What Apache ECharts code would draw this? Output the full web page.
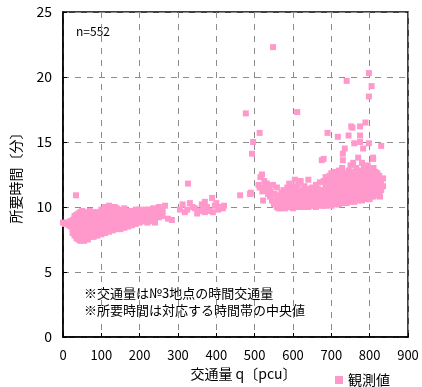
<!DOCTYPE html>
<html>
<head>
<meta charset="utf-8">
<script src="https://cdn.jsdelivr.net/npm/echarts@6/dist/echarts.min.js"></script>
<style>
html,body{margin:0;padding:0;background:#fff;}
#c{width:422px;height:387px;}
</style>
</head>
<body>
<div id="c"></div>
<script>
// traffic volume q -> list of travel times (minutes)
const freeFlow = [
 [0,[8.8]],[5,[8.7]],[10,[8.8]],[15,[8.6]],[18,[8.9]],[20,[8.5]],[22,[8.8]],
 [25,[8.3,8.7,9.0,8.0]],[30,[7.8,8.2,8.6,9.1,9.3]],[34,[10.9]],
 [35,[7.6,8.0,8.4,8.9,9.4]],[40,[7.5,7.9,8.3,8.7,9.2,9.5]],
 [45,[7.4,7.7,8.1,8.5,8.8,9.1,9.6]],[50,[7.5,7.9,8.2,8.6,9.0,9.4,9.7]],
 [55,[7.4,7.8,8.3,8.7,9.1,9.5]],[60,[7.6,8.0,8.4,8.8,9.2,9.6]],
 [65,[7.5,7.9,8.2,8.6,9.0,9.4]],[70,[7.7,8.1,8.5,8.9,9.3,9.7]],
 [75,[7.8,8.2,8.6,9.0,9.5]],[80,[7.7,8.1,8.4,8.8,9.2,9.6]],
 [85,[7.9,8.3,8.7,9.1,9.4]],[90,[7.8,8.2,8.6,9.0,9.3,9.6]],
 [95,[8.0,8.4,8.8,9.2,9.5]],[100,[7.9,8.3,8.7,9.1,9.5,9.8]],
 [105,[8.1,8.5,8.9,9.3,9.7]],[110,[8.0,8.4,8.8,9.2,9.6,10.0]],
 [115,[8.2,8.6,9.0,9.4,9.9]],[120,[8.1,8.5,8.9,9.3,9.7,10.1]],
 [125,[8.3,8.7,9.1,9.5,9.9]],[130,[8.2,8.6,9.0,9.4,9.8]],
 [135,[8.4,8.8,9.2,9.6,10.0]],[140,[8.3,8.7,9.1,9.5,9.9]],
 [145,[8.5,8.9,9.3,9.7]],[150,[8.3,8.7,9.0,9.4,9.8]],
 [155,[8.5,8.9,9.3,9.6]],[160,[8.4,8.8,9.2,9.5,9.9]],
 [165,[8.6,9.0,9.4,9.7]],[170,[8.5,8.9,9.3,9.6]],[175,[8.7,9.1,9.5]],
 [180,[8.6,9.0,9.4,9.7]],[185,[8.8,9.2,9.5]],[190,[8.7,9.1,9.4,9.8]],
 [195,[8.9,9.3,9.6]],[200,[8.8,9.2,9.5,9.8]],[210,[8.9,9.3,9.6]],
 [215,[9.0,9.4,9.8]],[220,[8.8,9.2,9.5]],[225,[9.1,9.5,9.8]],
 [230,[8.9,9.3,9.6]],[235,[9.2,9.5,9.9]],[240,[8.8,9.3,9.6]],
 [245,[9.4,9.8]],[250,[9.2,9.6,10.0]],[255,[9.5,9.8]],[260,[9.3,9.7]],
 [266,[10.1]],[274,[9.1]],[284,[9.0]]
];
const transition = [
 [305,[9.8]],[312,[10.2]],[318,[9.6]],[324,[9.8]],[326,[11.8]],[331,[10.3]],
 [338,[10.0]],[344,[9.9]],[350,[9.5]],[356,[9.7]],[362,[10.2]],[366,[9.8]],
 [370,[10.4,9.6]],[376,[10.0]],[382,[9.7]],[389,[10.7]],[391,[9.6]],
 [396,[10.1]],[400,[10.3]],[405,[9.8]],[412,[10.0]],[417,[9.9]],[420,[10.1]],
 [462,[10.9]],[477,[17.2]],[488,[11.0]],[490,[11.1]],[493,[14.1]],
 [496,[15.0]],[513,[15.7]]
];
const congestedLow = [
 [510,[11.7]],[513,[11.5]],[515,[12.3]],[519,[12.5]],[520,[11.2]],
 [522,[11.5,10.5]],[525,[12.0]],[528,[11.8]],[530,[11.3]],[532,[11.8]],
 [535,[11.0]],[538,[11.6]],[540,[10.8]],[542,[11.2]],[545,[10.5]],
 [548,[11.7,10.5,22.3]],[550,[10.2]],[552,[11.0]],[555,[10.4]],
 [558,[11.5,10.0]],[560,[10.7]],[562,[9.9]],[566,[10.9,10.3]],
 [570,[9.9,10.2,10.5,10.8,11.1]],[575,[10.0,10.4,10.7,11.3]],
 [580,[9.9,10.2,10.6,10.9,11.2]],[585,[10.1,10.4,10.8,11.5]],
 [590,[10.0,10.3,10.7,11.0,11.8]],[595,[10.2,10.5,10.9,11.3]],
 [600,[9.9,10.3,10.6,11.0,11.6]],[605,[10.1,10.4,10.8,11.2,12.1]],
 [610,[10.0,10.3,10.7,11.0,11.4]],[611,[17.3]],
 [615,[10.2,10.5,10.9,11.8]],[620,[10.0,10.4,10.7,11.1,12.0]],
 [625,[10.1,10.5,10.8,11.3]],[630,[10.0,10.3,10.6,11.0,11.6]],
 [635,[10.2,10.5,10.9,11.3]],[640,[10.0,10.4,10.7,11.1,12.1]],
 [645,[10.1,10.5,10.8,11.4]],[650,[10.1,10.4,10.7,11.0,11.5]],
 [655,[10.2,10.6,10.9,11.3]],[660,[10.0,10.4,10.8,11.1,11.7]],
 [665,[10.2,10.5,10.9,11.4]],[670,[10.1,10.4,10.7,11.0,11.9]],
 [675,[10.2,10.6,11.2,13.6]],[680,[10.1,10.5,10.8,11.3,12.0,13.7]]
];
const congestedHigh = [
 [685,[10.1,10.5,10.9,11.3,11.7,12.3]],[690,[10.2,10.6,11.0,11.4,12.0,15.7]],
 [695,[10.3,10.7,11.1,11.5,12.4]],[700,[10.1,10.5,10.9,11.3,11.8,12.6]],
 [705,[10.3,10.7,11.1,11.6,12.2]],[710,[10.2,10.6,11.0,11.4,11.9,12.7]],
 [715,[10.4,10.8,11.2,11.7,12.3]],[717,[15.4]],
 [720,[10.2,10.6,11.0,11.5,12.0,12.8]],[725,[10.4,10.8,11.3,11.8,12.5]],
 [728,[13.0]],[730,[10.3,10.7,11.1,11.6,12.2,13.6,14.1]],
 [735,[10.5,10.9,11.4,11.9,12.6,14.5]],[740,[10.3,10.7,11.2,11.7,12.3,19.7]],
 [745,[10.5,10.9,11.4,12.0,12.8,15.5]],[750,[10.4,10.8,11.3,11.8,12.5,13.2]],
 [752,[16.2]],[755,[10.6,11.0,11.5,12.1,12.7,16.1]],[757,[13.4]],
 [760,[10.4,10.9,11.4,11.9,12.5,14.9]],[765,[10.6,11.1,11.6,12.2,13.0]],
 [770,[10.5,11.0,11.5,12.0,12.7,13.8]],[775,[10.7,11.2,11.7,12.3,15.0,16.2,15.5]],
 [780,[10.5,11.0,11.6,12.1,12.8,13.4]],[783,[14.5]],
 [785,[10.7,11.2,11.8,12.4,13.1]],[789,[16.5]],
 [790,[10.6,11.1,11.6,12.2,12.9]],[795,[10.8,11.3,11.9,12.5,13.2]],
 [798,[20.3,18.5,14.9]],[800,[10.6,11.1,11.7,12.3,12.9]],
 [805,[10.9,11.4,12.0,12.6,19.3]],[809,[13.7,13.8]],
 [810,[10.8,11.3,11.9,12.5,13.0]],[815,[11.0,11.5,12.1,12.7]],
 [820,[10.9,11.4,12.0,12.6]],[825,[11.2,11.8,12.4]],[827,[10.8]],
 [830,[11.3,11.9,14.7]],[835,[12.2,11.6]]
];
const xTicks = [0,100,200,300,400,500,600,700,800,900];
const yTicks = [0,5,10,15,20,25];
const sampleCount = 'n=552';
const notes = ['※交通量は№3地点の時間交通量','※所要時間は対応する時間帯の中央値'];

const points = [];
[freeFlow, transition, congestedLow, congestedHigh].forEach(g =>
  g.forEach(([q, ts]) => ts.forEach(t => points.push([q, t]))));

const FONT = '"Noto Sans CJK JP", sans-serif';
const chart = echarts.init(document.getElementById('c'), null, {renderer: 'canvas'});
chart.setOption({
  animation: false,
  backgroundColor: '#fff',
  textStyle: {fontFamily: FONT},
  grid: {left: 63, right: 14, top: 12, bottom: 50, show: true, borderColor: '#000', borderWidth: 1.5, backgroundColor: 'transparent'},
  xAxis: {
    type: 'value', min: xTicks[0], max: xTicks[xTicks.length - 1], interval: 100,
    name: '交通量 q〔pcu〕', nameLocation: 'middle', nameGap: 30,
    nameTextStyle: {color: '#000', fontSize: 14, fontFamily: FONT, padding: [0, 0, 0, 16]},
    axisLine: {show: true, lineStyle: {color: '#000', width: 1.5}},
    axisTick: {show: true, inside: true, length: 4, lineStyle: {color: '#000'}},
    axisLabel: {color: '#000', fontSize: 13, margin: 12, fontFamily: FONT},
    splitLine: {show: true, lineStyle: {color: '#8c8c8c', type: [6, 6], width: 1}}
  },
  yAxis: {
    type: 'value', min: yTicks[0], max: yTicks[yTicks.length - 1], interval: 5,
    name: '所要時間〔分〕', nameLocation: 'middle', nameGap: 40, nameRotate: 90,
    nameTextStyle: {color: '#000', fontSize: 14, fontFamily: FONT},
    axisLine: {show: true, lineStyle: {color: '#000', width: 1.5}},
    axisTick: {show: true, inside: true, length: 4, lineStyle: {color: '#000'}},
    axisLabel: {color: '#000', fontSize: 14, margin: 11, fontFamily: FONT},
    splitLine: {show: true, lineStyle: {color: '#8c8c8c', type: [6, 6], width: 1}}
  },
  legend: {
    show: true, left: 330, top: 368, itemWidth: 8, itemHeight: 8, itemGap: 4,
    textStyle: {color: '#000', fontSize: 14, fontFamily: FONT},
    data: [{name: '観測値', icon: 'rect'}]
  },
  series: [{
    name: '観測値', type: 'scatter', symbol: 'rect', symbolSize: 6,
    itemStyle: {color: '#ff99cc', opacity: 1},
    data: points
  }],
  graphic: [
    {type: 'text', left: 76, top: 25, style: {text: sampleCount, fill: '#000', font: '12px ' + FONT}},
    {type: 'text', left: 84, top: 287, style: {text: notes[0], fill: '#000', font: '13px ' + FONT}},
    {type: 'text', left: 84, top: 304, style: {text: notes[1], fill: '#000', font: '13px ' + FONT}}
  ]
});
</script>
</body>
</html>
